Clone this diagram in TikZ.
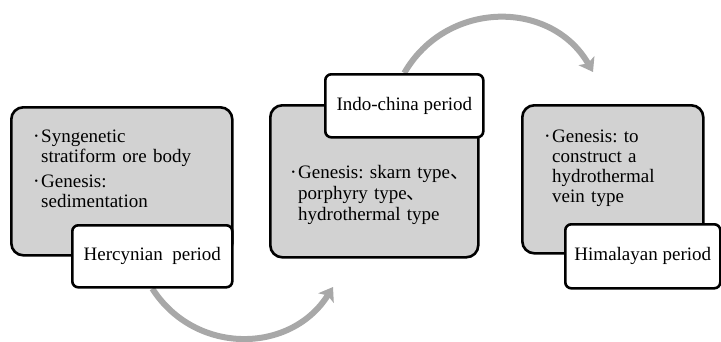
\documentclass[tikz,border=0pt]{standalone}
\usepackage{fontspec}
\setmainfont{Liberation Serif}
\newfontfamily\cjk{Noto Sans CJK SC}
\usetikzlibrary{arrows.meta, backgrounds}
\definecolor{stagegray}{HTML}{D2D2D2}
\definecolor{flowgray}{HTML}{A8A8A8}
\newcommand{\blt}{\leavevmode\llap{\raisebox{2.5pt}{\fontsize{10}{10}\selectfont\textbullet}\hspace{3pt}}}
\newcommand{\dun}{{\cjk 、}}
\frenchspacing
\tikzset{
    stagebox/.style={draw=black, line width=2.6pt, rounded corners=12pt, fill=stagegray,
        anchor=north west, inner sep=0pt},
    periodbox/.style={draw=black, line width=2.6pt, rounded corners=6pt, fill=white,
        anchor=north west, inner sep=0pt, font=\fontsize{19}{20}\selectfont},
    stagetext/.style={anchor=base west, inner sep=0pt, align=left, text width=#1,
        font=\fontsize{19}{20}\selectfont},
    flow/.style={draw=flowgray, line width=6pt, -{Stealth[length=13pt, width=18pt, inset=3pt]}}
}

\begin{document}
\begin{tikzpicture}[x=1pt, y=-1pt]
    \useasboundingbox (0,0) rectangle (721,341);

    \node[stagebox, minimum width=221pt, minimum height=148pt] (s1) at (10,106) {};
    \node[stagebox, minimum width=208pt, minimum height=152pt] (s2) at (269,104) {};
    \node[stagebox, minimum width=181pt, minimum height=148pt] (s3) at (521,104) {};

    \node[stagetext=180pt] (t1) at (41,142)
        {\blt Syngenetic\\stratiform ore body\\[5pt]\blt Genesis:\\sedimentation};
    \node[stagetext=178pt, font=\fontsize{19}{21}\selectfont] (t2) at (298,178)
        {\blt Genesis: skarn type\dun\\porphyry type\dun\\hydrothermal type};
    \node[stagetext=145pt] (t3) at (552,142)
        {\blt Genesis: to\\construct a\\hydrothermal\\vein type};

    \node[periodbox, minimum width=160pt, minimum height=62pt] (p1) at (71,224) {Hercynian\ \ period};
    \node[periodbox, minimum width=158pt, minimum height=63pt] (p2) at (324,73) {Indo-china period};
    \node[periodbox, minimum width=155pt, minimum height=64pt] (p3) at (564,223) {Himalayan period};

    \coordinate (e1) at (333,287);
    \coordinate (e2) at (593,72);
    \begin{scope}[on background layer]
        \draw[flow] (p1.south) .. controls +(43,67) and +(-42,67) .. (e1);
        \draw[flow] (p2.north) .. controls +(42,-73) and +(-42,-73) .. (e2);
    \end{scope}
\end{tikzpicture}
\end{document}
